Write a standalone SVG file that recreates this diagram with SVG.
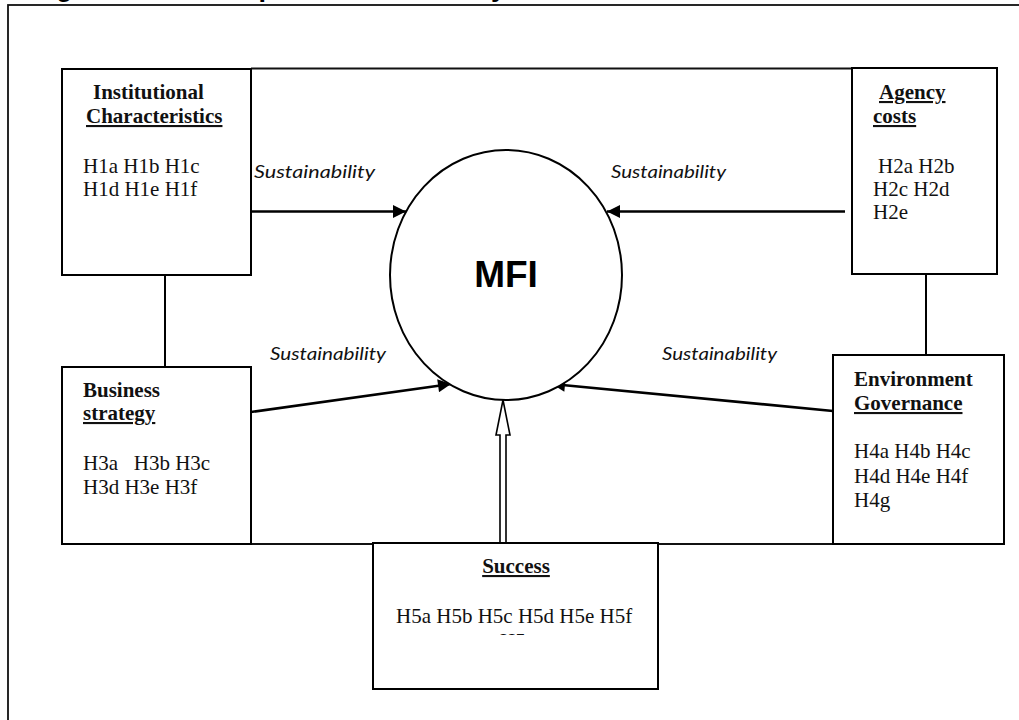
<svg xmlns="http://www.w3.org/2000/svg" width="1019" height="720" viewBox="0 0 1019 720">
  <defs>
    <style>
      .box { fill: #fff; stroke: #000; stroke-width: 2; }
      .frame { fill: none; stroke: #111; stroke-width: 1.8; }
      .link { fill: none; stroke: #000; stroke-width: 2; }
      .arrow { fill: none; stroke: #000; stroke-width: 2.6; marker-end: url(#head); }
      .hd { font-family: "Liberation Serif", "Times New Roman", serif; font-weight: bold; font-size: 21px; fill: #111; }
      .ul { text-decoration: underline; }
      .hy { font-family: "Liberation Serif", "Times New Roman", serif; font-size: 21px; fill: #111; }
      .lbl { font-family: Lato, "Liberation Sans", sans-serif; font-style: italic; font-size: 18px; fill: #111; }
      .core { font-family: "Liberation Sans", Arial, sans-serif; font-weight: bold; font-size: 37px; fill: #000; }
      .title { font-family: "Liberation Sans", Arial, sans-serif; font-weight: bold; font-size: 27px; fill: #000; }
    </style>
    <marker id="head" viewBox="0 0 10 10" refX="10" refY="5" markerWidth="6" markerHeight="5" markerUnits="strokeWidth" orient="auto">
      <path d="M0,0 L10,5 L0,10 Z" fill="#000"/>
    </marker>
    <clipPath id="successClip">
      <rect x="373" y="543" width="285" height="92"/>
    </clipPath>
  </defs>

  <!-- page frame and heading (heading runs off the top edge) -->
  <text class="title" x="32" y="-4.2">Figure 1.1: Conceptual Sustainability and Success Model</text>
  <rect x="8" y="5" width="1030" height="740" fill="none" stroke="#111" stroke-width="1.8"/>

  <!-- connectors -->
  <g id="connectors">
    <line class="frame" x1="251" y1="68.5" x2="852" y2="68.5"/>
    <line class="frame" x1="251" y1="544" x2="833" y2="544"/>
    <line class="link" x1="165" y1="275" x2="165" y2="367"/>
    <line class="link" x1="926" y1="274" x2="926" y2="355"/>
    <line class="arrow" x1="251" y1="211.5" x2="406" y2="211.5"/>
    <line class="arrow" x1="845" y1="211.5" x2="607" y2="211.5"/>
    <line class="arrow" x1="251" y1="412" x2="451" y2="384"/>
    <line class="arrow" x1="833" y1="411" x2="552" y2="384"/>
    <path d="M500,543 L500,435 L496,435 L503,400 L510,435 L506,435 L506,543" fill="#fff" stroke="#000" stroke-width="1.6" stroke-linejoin="miter"/>
  </g>

  <!-- central MFI node -->
  <g id="mfi">
    <ellipse cx="506" cy="275" rx="116" ry="125" fill="#fff" stroke="#000" stroke-width="2"/>
    <text class="core" x="506" y="287" text-anchor="middle">MFI</text>
  </g>

  <!-- connector labels -->
  <g id="labels">
    <text class="lbl" x="254" y="178" textLength="121" lengthAdjust="spacingAndGlyphs">Sustainability</text>
    <text class="lbl" x="611" y="178" textLength="115" lengthAdjust="spacingAndGlyphs">Sustainability</text>
    <text class="lbl" x="270" y="360" textLength="116" lengthAdjust="spacingAndGlyphs">Sustainability</text>
    <text class="lbl" x="662" y="360" textLength="115" lengthAdjust="spacingAndGlyphs">Sustainability</text>
  </g>

  <g id="institutional">
    <rect class="box" x="62" y="69" width="189" height="206"/>
    <text class="hd" x="93" y="99">Institutional</text>
    <text class="hd ul" x="86" y="123">Characteristics</text>
    <text class="hy" x="83" y="173">H1a H1b H1c</text>
    <text class="hy" x="83" y="196">H1d H1e H1f</text>
  </g>

  <g id="agency">
    <rect class="box" x="852" y="68" width="145" height="206"/>
    <text class="hd ul" x="879" y="99">Agency</text>
    <text class="hd ul" x="873" y="123">costs</text>
    <text class="hy" x="878" y="173">H2a H2b</text>
    <text class="hy" x="873" y="196">H2c H2d</text>
    <text class="hy" x="873" y="219">H2e</text>
  </g>

  <g id="business">
    <rect class="box" x="62" y="367" width="189" height="177"/>
    <text class="hd" x="83" y="397">Business</text>
    <text class="hd ul" x="83" y="420">strategy</text>
    <text class="hy" x="83" y="470" xml:space="preserve">H3a   H3b H3c</text>
    <text class="hy" x="83" y="494">H3d H3e H3f</text>
  </g>

  <g id="environment">
    <rect class="box" x="833" y="355" width="171" height="189"/>
    <text class="hd" x="854" y="386">Environment</text>
    <text class="hd ul" x="854" y="410">Governance</text>
    <text class="hy" x="854" y="458">H4a H4b H4c</text>
    <text class="hy" x="854" y="483">H4d H4e H4f</text>
    <text class="hy" x="854" y="507">H4g</text>
  </g>

  <g id="success">
    <rect class="box" x="373" y="543" width="285" height="146"/>
    <text class="hd ul" x="516" y="573" text-anchor="middle">Success</text>
    <g clip-path="url(#successClip)">
      <text class="hy" x="396" y="623">H5a H5b H5c H5d H5e H5f</text>
      <text class="hy" x="500" y="648">H5g</text>
    </g>
  </g>
</svg>
